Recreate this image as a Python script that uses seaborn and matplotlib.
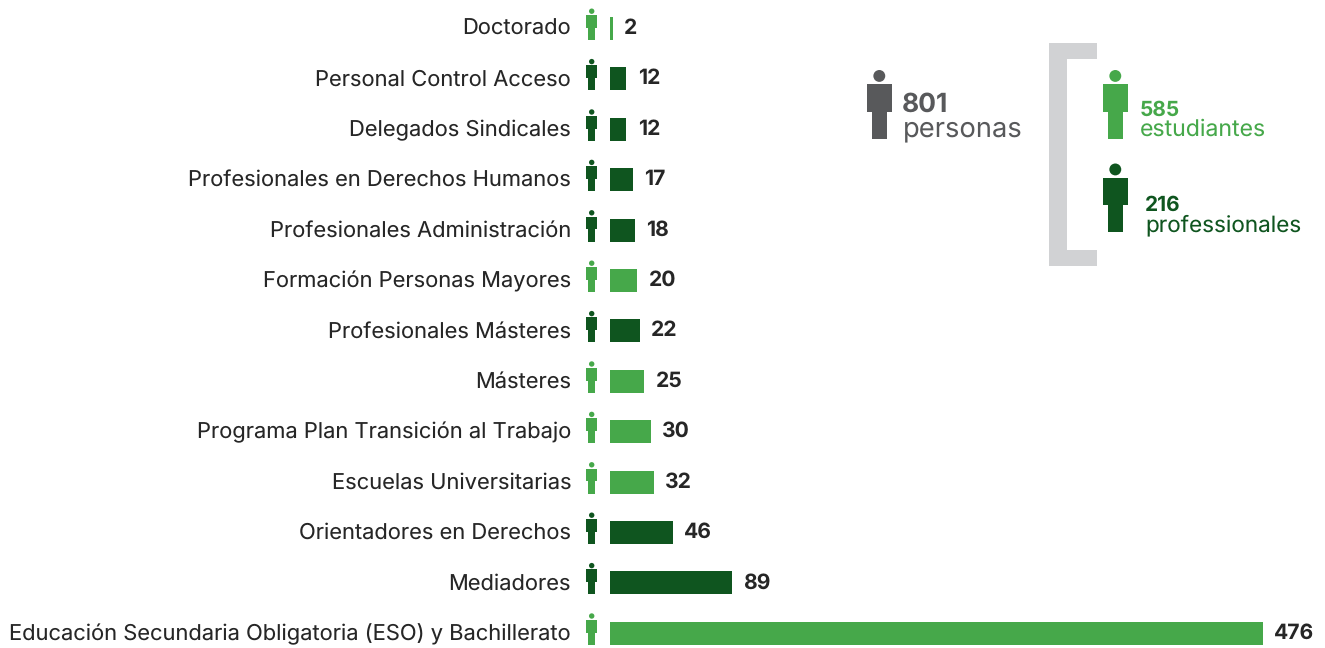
import pandas as pd
import matplotlib.pyplot as plt
import matplotlib.transforms as mtrans
import seaborn as sns
from matplotlib.patches import Circle, Polygon, Rectangle

categorias = [
    'Doctorado', 'Personal Control Acceso', 'Delegados Sindicales',
    'Profesionales en Derechos Humanos', 'Profesionales Administración',
    'Formación Personas Mayores', 'Profesionales Másteres', 'Másteres',
    'Programa Plan Transición al Trabajo', 'Escuelas Universitarias',
    'Orientadores en Derechos', 'Mediadores',
    'Educación Secundaria Obligatoria (ESO) y Bachillerato',
]
valores = [2, 12, 12, 17, 18, 20, 22, 25, 30, 32, 46, 89, 476]
grupos = ['est', 'pro', 'pro', 'pro', 'pro', 'est', 'pro', 'est', 'est', 'est', 'pro', 'pro', 'est']

VERDE = '#46A84A'
OSCURO = '#0F551F'
GRIS = '#58595B'
TEXTO = '#262626'
PALETA = {'est': VERDE, 'pro': OSCURO}

W, H = 1325, 648
sns.set_theme(style='white')
plt.rcParams['font.family'] = ['Inter', 'DejaVu Sans']
plt.rcParams['text.hinting'] = 'no_hinting'
plt.rcParams['text.hinting_factor'] = 1

df = pd.DataFrame({'categoria': categorias, 'valor': valores, 'grupo': grupos})

fig = plt.figure(figsize=(W / 100, H / 100), dpi=100)
ax = fig.add_axes([610 / W, 0, (W - 610) / W, 1])

sns.barplot(data=df, y='categoria', x='valor', hue='grupo', palette=PALETA, order=categorias,
            dodge=False, width=0.456, legend=False, saturation=1, linewidth=0, ax=ax)

# escala: 476 -> 653 px, filas cada 50.4 px
ax.set_xlim(0, (W - 610) / 1.372)
ax.set_ylim((H - 28.5) / 50.4, -28.5 / 50.4)
ax.set_xlabel('')
ax.set_ylabel('')
ax.set_xticks([])
ax.tick_params(axis='y', length=0, pad=28, labelsize=15.75, labelcolor=TEXTO)
sube = mtrans.ScaledTranslation(0, 1.5 / 100, fig.dpi_scale_trans)
for lab in ax.get_yticklabels():
    lab.set_verticalalignment('center_baseline')
    lab.set_transform(lab.get_transform() + sube)
sns.despine(ax=ax, left=True, bottom=True)

for cont in ax.containers:
    ax.bar_label(cont, padding=8, fontsize=15.2, fontweight='bold', color=TEXTO)

# capa en pixeles para los iconos y la leyenda
over = fig.add_axes([0, 0, 1, 1], facecolor='none')
over.set_xlim(0, W)
over.set_ylim(H, 0)
over.axis('off')


def persona(cx, top, ancho, alto, color):
    # cabeza + torso + piernas, proporciones del icono original
    r = ancho * 0.235
    over.add_patch(Circle((cx, top + r), r, color=color, lw=0))
    t = top + alto * 0.205
    m = top + alto * 0.61
    b = top + alto
    a, p = ancho / 2, ancho * 0.29
    over.add_patch(Polygon([(cx - a, t), (cx + a, t), (cx + a, m), (cx + p, m), (cx + p, b),
                            (cx - p, b), (cx - p, m), (cx - a, m)], color=color, lw=0))


for i, g in enumerate(grupos):
    persona(591.7, 28.5 + 50.4 * i - 20, 11.5, 31.5, PALETA[g])

persona(879.3, 70, 25.3, 68.7, GRIS)
persona(1115.3, 70, 25.3, 68.7, VERDE)
persona(1115.3, 163.5, 25.3, 68.7, OSCURO)

# corchete gris
for x, y, w, h in [(1049.3, 43, 17.7, 223), (1049.3, 43, 48, 16), (1049.3, 250, 48, 16)]:
    over.add_patch(Rectangle((x, y), w, h, color='#D1D2D4', lw=0))

leyenda = [
    (902, 102, '801', 'personas', GRIS, 19, 902.5, 129, 19.7),
    (1140, 108, '585', 'estudiantes', VERDE, 15, 1140, 130, 16.6),
    (1145, 203, '216', 'professionales', OSCURO, 15, 1145, 225, 16.2),
]
for x, y, num, txt, col, fs, x2, y2, fs2 in leyenda:
    over.text(x, y, num, color=col, fontsize=fs, fontweight='bold', va='center_baseline', ha='left')
    over.text(x2, y2, txt, color=col, fontsize=fs2, va='center', ha='left')

fig.savefig('out.png', dpi=100)
